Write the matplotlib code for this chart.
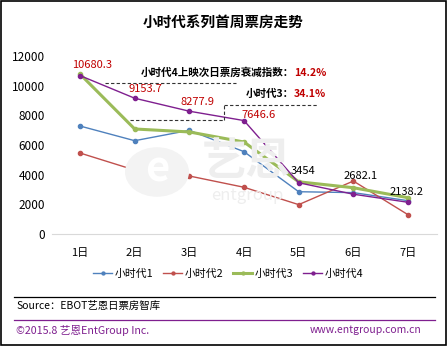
import matplotlib
matplotlib.use("Agg")
import matplotlib.pyplot as plt
from matplotlib.lines import Line2D

plt.rcParams['font.family'] = ['Noto Sans CJK SC', 'DejaVu Sans']

# 数据（单位：万元）
days = ["1日", "2日", "3日", "4日", "5日", "6日", "7日"]
tiny1 = [7280, 6290, 6990, 5550, 2850, 2790, 2245]
tiny2 = [5460, 4310, 3910, 3150, 1980, 3570, 1300]
tiny3 = [10780, 7080, 6880, 6200, 3520, 3120, 2447]
tiny4 = [10680.3, 9153.7, 8277.9, 7646.6, 3454, 2682.1, 2138.2]
series_names = ["小时代1", "小时代2", "小时代3", "小时代4"]
colors = ["#4F81BD", "#C0504D", "#9BBB59", "#7F1F8F"]

W, H = 447, 346
fig = plt.figure(figsize=(W / 100, H / 100), dpi=100)

def fx(px):
    return px / W

def fy(py):
    return 1 - py / H

# cadre extérieur
fig.patches.append(plt.Rectangle((0.002, 0.003), 0.995, 0.994, transform=fig.transFigure,
                                 fill=False, edgecolor="black", linewidth=1.2))

# filigrane
fig.patches.append(plt.Circle((fx(157), fy(172)), fx(32), transform=fig.transFigure,
                              facecolor="#F3F3F3", edgecolor="none", zorder=0))
fig.text(fx(157), fy(170), "e", ha="center", va="center", fontsize=30,
         fontweight="bold", color="white", zorder=0)
fig.text(fx(246), fy(162), "艺恩", ha="center", va="center", fontsize=32,
         fontweight="bold", color="#EEEEEE", zorder=0)
fig.text(fx(247), fy(195), "entgroup", ha="center", va="center", fontsize=12,
         color="#EEEEEE", zorder=0)

ax = fig.add_axes([fx(52), fy(234), fx(437) - fx(52), fy(56) - fy(234)])
ax.patch.set_alpha(0)
x = list(range(len(days)))

for vals, name, c in zip([tiny1, tiny2, tiny3, tiny4], series_names, colors):
    lw = 2.2 if name == "小时代3" else 1.0
    ax.plot(x, vals, color=c, linewidth=lw, marker="o", markersize=3, label=name)

ax.set_ylim(0, 12000)
ax.set_xlim(-0.512, 6.53)
ax.set_yticks(range(0, 12001, 2000))
ax.set_xticks(x)
ax.set_xticklabels(days)
ax.tick_params(axis="y", length=0, labelsize=8.5, pad=5)
ax.tick_params(axis="x", length=0, labelsize=8, pad=10)
for s in ["top", "right", "left"]:
    ax.spines[s].set_visible(False)
ax.spines["bottom"].set_color("#D9D9D9")

# étiquettes de valeurs (décalage en pixels)
red = "#C00000"
offsets = [(12, 11), (11, 9), (8, 9), (15, 6), (4, 12), (7, 18), (-1, 10)]
for i, (dx, dy) in enumerate(offsets):
    ax.annotate(f"{tiny4[i]}", (i, tiny4[i]), xytext=(dx, dy), textcoords="offset pixels",
                ha="center", va="center", color=red if i < 4 else "black", fontsize=8)

# lignes pointillées
dash = dict(color="#333333", linewidth=0.8, linestyle=(0, (3, 2)), transform=fig.transFigure)
fig.add_artist(Line2D([fx(105), fx(236)], [fy(82.5), fy(82.5)], **dash))
fig.add_artist(Line2D([fx(130), fx(224)], [fy(120), fy(120)], **dash))
fig.add_artist(Line2D([fx(224), fx(224)], [fy(120), fy(105)], **dash))
fig.add_artist(Line2D([fx(224), fx(317)], [fy(105), fy(105)], **dash))

fig.text(fx(294), fy(73), "小时代4上映次日票房衰减指数：", ha="right", va="center",
         fontsize=7.6, fontweight="bold")
fig.text(fx(294), fy(73), "14.2%", ha="left", va="center", fontsize=7.6,
         fontweight="bold", color=red)
fig.text(fx(294), fy(94), "小时代3：", ha="right", va="center",
         fontsize=7.6, fontweight="bold")
fig.text(fx(294), fy(94), "34.1%", ha="left", va="center", fontsize=7.6,
         fontweight="bold", color=red)

# titre
fig.text(0.5, fy(22), "小时代系列首周票房走势", ha="center", va="center",
         fontsize=10.5, fontweight="bold")

# légende
handles, labels = ax.get_legend_handles_labels()
fig.legend(handles, labels, loc="center", bbox_to_anchor=(fx(228), fy(274)), ncol=4,
           frameon=False, fontsize=7.8, handlelength=1.8, handletextpad=0.2,
           columnspacing=0.9, markerscale=0.7)

# pied de page
fig.add_artist(Line2D([fx(14), fx(435)], [fy(297), fy(297)], color="black", linewidth=0.9,
                      transform=fig.transFigure))
fig.text(fx(16), fy(306), "Source：EBOT艺恩日票房智库", ha="left", va="center", fontsize=7.5)
fig.add_artist(Line2D([fx(14), fx(435)], [fy(320), fy(320)], color="#7F1F8F", linewidth=0.9,
                      transform=fig.transFigure))
fig.text(fx(16), fy(330), "©2015.8 艺恩EntGroup Inc.", ha="left", va="center",
         fontsize=7.7, color="#7F1F8F")
fig.text(fx(421), fy(330), "www.entgroup.com.cn", ha="right", va="center",
         fontsize=7.5, color="#7F1F8F")

fig.savefig("out.png", dpi=100)
